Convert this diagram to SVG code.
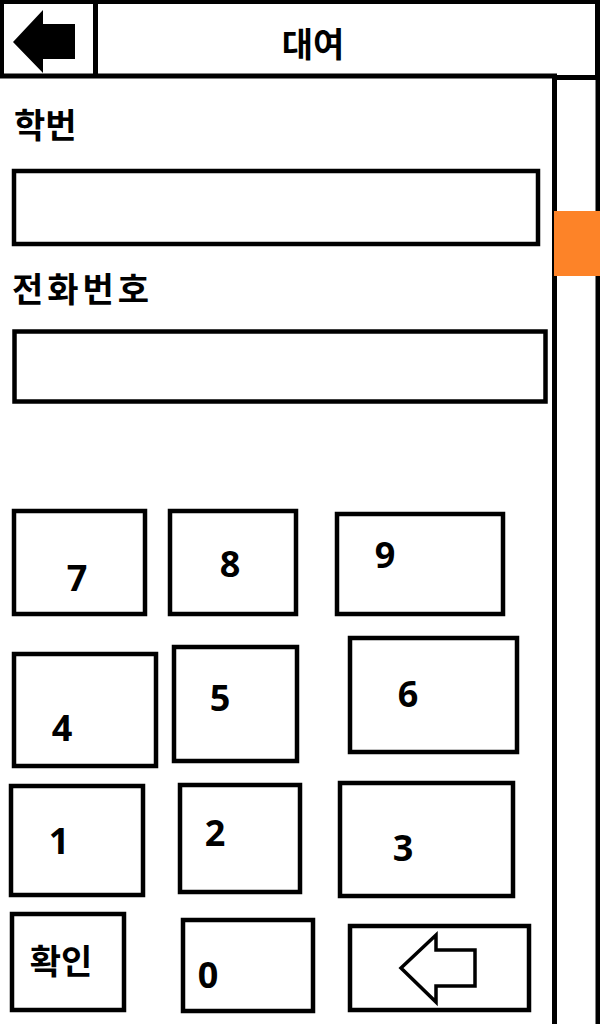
<svg xmlns="http://www.w3.org/2000/svg" width="600" height="1024" viewBox="0 0 600 1024">
<style>
.box{fill:none;stroke:#000;stroke-width:4.5}
.ln{fill:none;stroke:#000;stroke-width:5}
.ko{font-family:"Noto Sans CJK KR","Noto Sans",sans-serif;font-weight:700;font-size:34px;fill:#000}
.dg{font-family:"Noto Sans","Open Sans",sans-serif;font-weight:700;font-size:36px;fill:#000;text-anchor:middle}
</style>
<rect width="600" height="1024" fill="#fff"/>
<g id="header">
  <line class="ln" x1="0" y1="1.5" x2="600" y2="1.5" stroke-width="3"/>
  <line class="ln" x1="1.5" y1="0" x2="1.5" y2="76" stroke-width="3"/>
  <line class="ln" x1="95.5" y1="0" x2="95.5" y2="76"/>
  <line class="ln" x1="597.5" y1="0" x2="597.5" y2="78"/>
  <line class="ln" x1="0" y1="76" x2="557" y2="76" stroke-width="6"/>
  <polygon points="13,42 43,10 43,24 75,24 75,59 43,59 43,73" fill="#000"/>
  <text class="ko" x="313" y="57" text-anchor="middle">대여</text>
</g>
<g id="scrollbar">
  <line class="ln" x1="555" y1="77.5" x2="600" y2="77.5" stroke-width="3"/>
  <line class="ln" x1="554.5" y1="76" x2="554.5" y2="1024"/>
  <line class="ln" x1="598" y1="76" x2="598" y2="1024" stroke-width="4"/>
  <rect x="554" y="211" width="46" height="65" fill="#FD8328"/>
</g>
<g id="student-id">
  <text class="ko" x="14" y="138" font-size="35">학번</text>
  <rect class="box" x="14" y="171" width="524" height="73"/>
</g>
<g id="phone">
  <text class="ko" x="12" y="302" font-size="35" letter-spacing="4">전화번호</text>
  <rect class="box" x="14.5" y="331.5" width="531" height="70"/>
</g>
<g id="key7"><rect class="box" x="14" y="511" width="131" height="103"/><text class="dg" x="77" y="591">7</text></g>
<g id="key8"><rect class="box" x="170" y="511" width="126" height="103"/><text class="dg" x="230" y="577">8</text></g>
<g id="key9"><rect class="box" x="337" y="514" width="166" height="100"/><text class="dg" x="385" y="568">9</text></g>
<g id="key4"><rect class="box" x="14" y="654" width="142" height="112"/><text class="dg" x="62" y="741">4</text></g>
<g id="key5"><rect class="box" x="174" y="647" width="123" height="114"/><text class="dg" x="220" y="711">5</text></g>
<g id="key6"><rect class="box" x="350" y="638" width="167" height="114"/><text class="dg" x="408" y="707">6</text></g>
<g id="key1"><rect class="box" x="11" y="786" width="132" height="109"/><text class="dg" x="59" y="854">1</text></g>
<g id="key2"><rect class="box" x="180" y="785" width="120" height="107"/><text class="dg" x="215" y="846">2</text></g>
<g id="key3"><rect class="box" x="340" y="783" width="173" height="113"/><text class="dg" x="403" y="861">3</text></g>
<g id="key-ok"><rect class="box" x="12" y="914" width="112" height="96"/><text class="ko" x="61" y="974" text-anchor="middle">확인</text></g>
<g id="key0"><rect class="box" x="183" y="920" width="130" height="91"/><text class="dg" x="208" y="988">0</text></g>
<g id="key-back"><rect class="box" x="350" y="926" width="179" height="84"/>
  <polygon points="401,968 436,935 436,950 475,950 475,986 436,986 436,1002" fill="none" stroke="#000" stroke-width="3.5" stroke-linejoin="miter"/>
</g>
</svg>
